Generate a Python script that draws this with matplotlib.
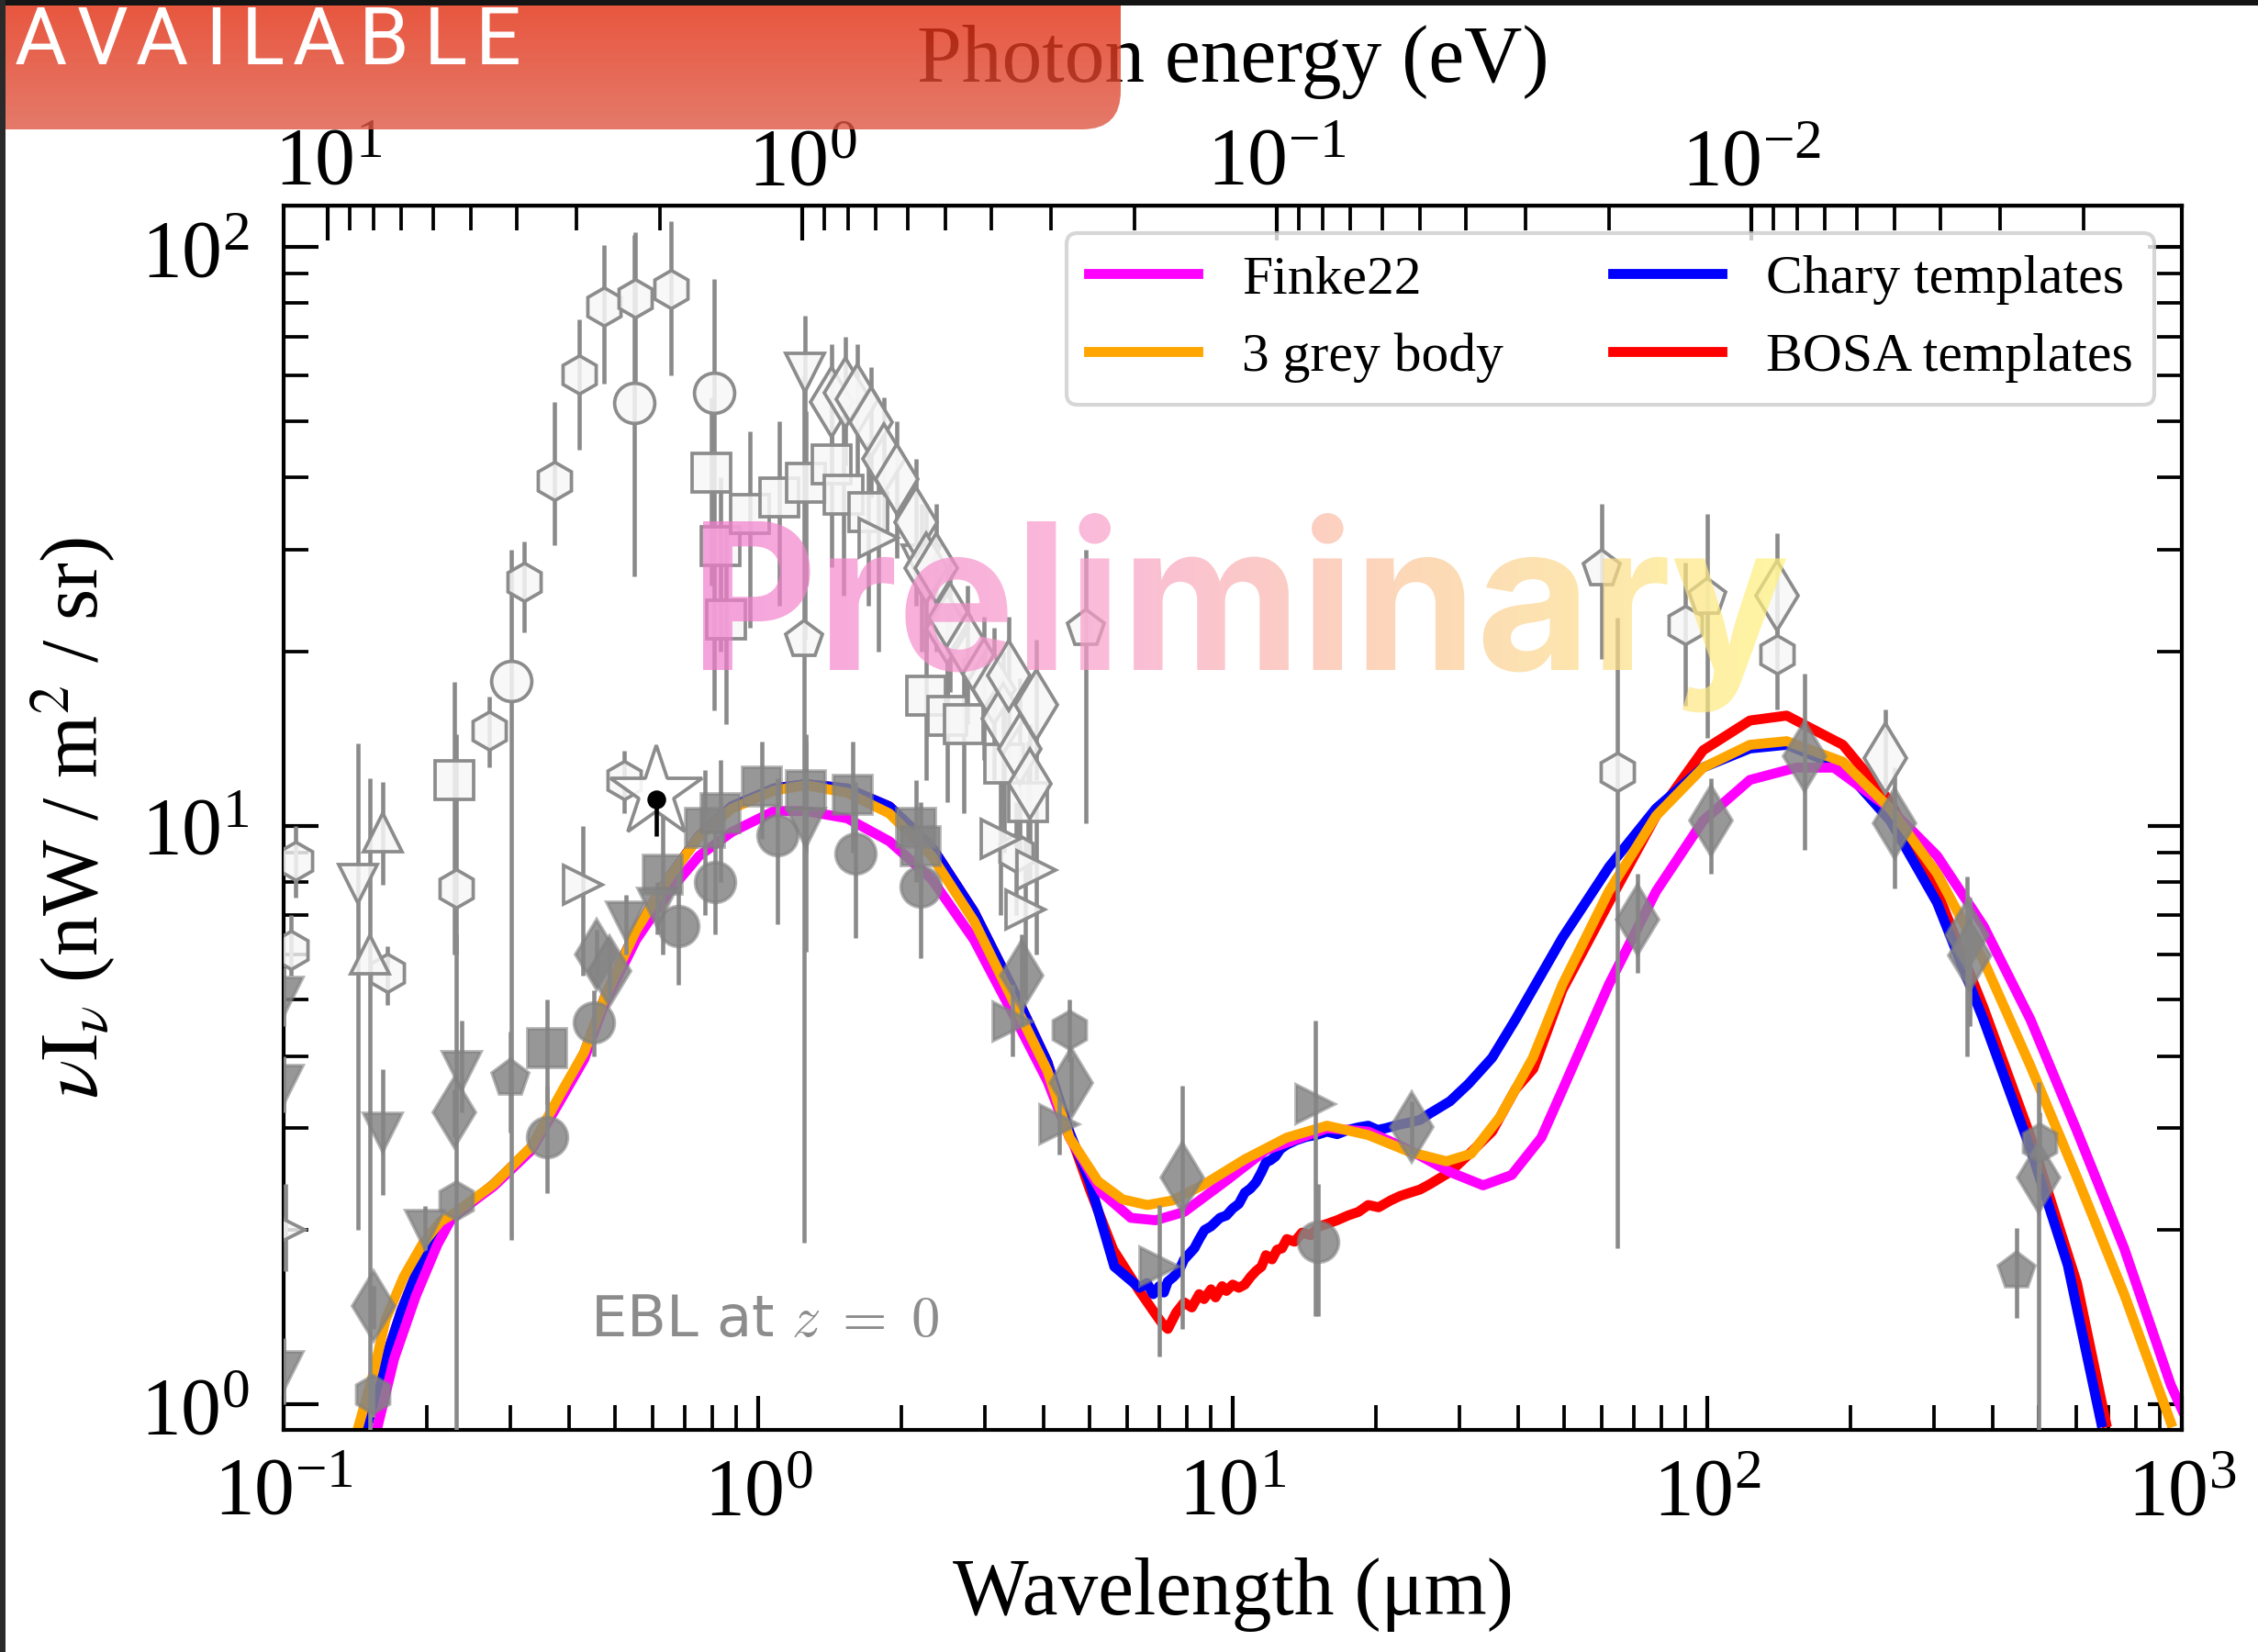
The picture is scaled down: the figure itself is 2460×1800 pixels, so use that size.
import numpy as np
import matplotlib
matplotlib.use("Agg")
import matplotlib.pyplot as plt
from matplotlib.textpath import TextPath
from matplotlib.font_manager import FontProperties
from matplotlib.patches import PathPatch, FancyBboxPatch, Rectangle
from matplotlib.transforms import Affine2D
from matplotlib.colors import LinearSegmentedColormap
from matplotlib.ticker import FixedLocator, LogLocator

# ---------------------------------------------------------------- model curves
finke22_lam = [0.157, 0.171, 0.190, 0.211, 0.227, 0.277, 0.333, 0.387, 0.430, 0.476,
               0.553, 0.646, 0.751, 0.879, 1.08, 1.26, 1.54, 1.89, 2.32, 2.85,
               3.41, 4.07, 4.53, 5.3, 6.1, 6.88, 7.9, 9.66, 11.75, 15.8,
               19.3, 23.6, 28.7, 33.7, 38.7, 44.7, 49.5, 62.0, 78.0, 98.0,
               123.0, 154.0, 185.0, 243.0, 305.0, 382.0, 480.0, 601.0, 756.0, 948.0, 1000.0]
finke22_val = [0.90, 1.20, 1.54, 1.89, 2.11, 2.38, 2.75, 3.40, 3.95, 4.95,
               6.35, 7.66, 8.87, 9.75, 10.6, 10.6, 10.3, 9.4, 8.09, 6.35,
               4.8, 3.62, 2.89, 2.32, 2.10, 2.08, 2.15, 2.43, 2.75, 3.0,
               2.96, 2.75, 2.52, 2.39, 2.49, 2.89, 3.49, 5.31, 7.7, 10.2,
               12.0, 12.6, 12.6, 10.7, 8.87, 6.71, 4.62, 2.97, 1.86, 1.08, 0.98]

greybody_lam = [0.1435, 0.155, 0.164, 0.179, 0.196, 0.214, 0.231, 0.277, 0.333, 0.387,
                0.430, 0.476, 0.553, 0.646, 0.751, 0.879, 1.08, 1.26, 1.54, 1.89,
                2.32, 2.85, 3.41, 4.07, 4.53, 5.2, 5.86, 6.61, 7.46, 8.71,
                10.6, 13.0, 15.8, 19.3, 23.6, 28.2, 31.8, 36.6, 42.9, 49.5,
                62.0, 78.0, 98.0, 123.0, 147.0, 193.0, 243.0, 305.0, 382.0, 480.0,
                601.0, 756.0, 948.0]
greybody_val = [0.91, 1.14, 1.40, 1.66, 1.89, 2.07, 2.15, 2.40, 2.79, 3.49,
                4.06, 5.07, 6.59, 8.09, 9.58, 10.7, 11.5, 11.75, 11.4, 10.5,
                8.87, 6.84, 5.07, 3.77, 2.89, 2.43, 2.26, 2.21, 2.25, 2.40,
                2.65, 2.89, 3.03, 2.92, 2.73, 2.63, 2.71, 3.14, 3.97, 5.31,
                7.7, 10.4, 12.6, 13.8, 14.0, 12.9, 10.7, 8.27, 5.85, 3.84,
                2.47, 1.55, 0.93]

chary_lam = [0.149, 0.162, 0.177, 0.196, 0.217, 0.232, 0.277, 0.333, 0.387, 0.430,
             0.476, 0.553, 0.646, 0.751, 0.879, 1.08, 1.26, 1.54, 1.89, 2.32,
             2.85, 3.41, 4.07, 4.53, 4.99, 5.63, 6.36, 6.6, 6.8, 7.0,
             7.16, 7.3, 7.5, 7.7, 7.9, 8.1, 8.3, 8.5, 8.72, 9.0,
             9.4, 9.7, 10.0, 10.3, 10.6, 10.9, 11.2, 11.5, 11.75, 12.0,
             12.3, 12.6, 13.0, 13.6, 14.3, 15.0, 15.8, 16.6, 17.5, 18.4,
             19.3, 20.2, 21.0, 22.3, 23.6, 24.8, 26.0, 28.7, 31.4, 35.2,
             39.4, 49.5, 62.1, 77.9, 97.8, 123.0, 147.0, 193.0, 243.0, 305.0,
             382.0, 480.0, 575.0, 676.0]
chary_val = [0.90, 1.16, 1.45, 1.79, 2.03, 2.13, 2.40, 2.78, 3.45, 4.05,
             5.07, 6.6, 8.1, 9.6, 10.8, 11.6, 11.8, 11.6, 10.8, 9.2,
             7.1, 5.3, 3.9, 2.95, 2.43, 1.73, 1.59, 1.62, 1.55, 1.60,
             1.56, 1.63, 1.66, 1.70, 1.78, 1.82, 1.86, 1.93, 2.0, 2.03,
             2.10, 2.12, 2.18, 2.22, 2.32, 2.36, 2.42, 2.52, 2.62, 2.64,
             2.68, 2.76, 2.81, 2.86, 2.90, 2.92, 2.96, 2.93, 2.98, 3.01,
             3.03, 2.98, 3.00, 3.04, 3.07, 3.10, 3.18, 3.34, 3.58, 3.97,
             4.62, 6.4, 8.49, 10.7, 12.6, 13.6, 13.8, 12.6, 10.2, 7.36,
             4.62, 2.76, 1.74, 0.93]

bosa_lam = [0.149, 0.162, 0.177, 0.196, 0.217, 0.232, 0.277, 0.333, 0.387, 0.430,
            0.476, 0.553, 0.646, 0.751, 0.879, 1.08, 1.26, 1.54, 1.89, 2.32,
            2.85, 3.41, 4.07, 4.53, 5.0, 5.6, 6.36, 6.8, 7.1, 7.3,
            7.6, 7.9, 8.2, 8.5, 8.7, 9.0, 9.2, 9.5, 9.7, 10.0,
            10.3, 10.6, 10.9, 11.2, 11.5, 11.75, 12.1, 12.4, 12.7, 13.0,
            13.5, 14.0, 14.6, 15.2, 15.8, 16.6, 17.5, 18.4, 19.3, 20.3,
            21.5, 22.5, 23.6, 24.8, 26.0, 28.7, 31.4, 35.2, 39.4, 43.0,
            49.5, 62.0, 78.0, 98.0, 123.0, 147.0, 193.0, 243.0, 305.0, 382.0,
            480.0, 601.0, 692.0]
bosa_val = [0.90, 1.16, 1.45, 1.79, 2.03, 2.13, 2.40, 2.78, 3.45, 4.05,
            5.07, 6.6, 8.1, 9.6, 10.8, 11.6, 11.8, 11.6, 10.8, 9.2,
            7.1, 5.3, 3.9, 2.95, 2.35, 1.85, 1.57, 1.45, 1.38, 1.35,
            1.44, 1.50, 1.47, 1.55, 1.52, 1.58, 1.53, 1.60, 1.57, 1.61,
            1.59, 1.61, 1.66, 1.70, 1.73, 1.81, 1.78, 1.85, 1.86, 1.93,
            1.91, 1.98, 1.96, 2.03, 2.05, 2.08, 2.12, 2.15, 2.21, 2.19,
            2.25, 2.29, 2.32, 2.35, 2.40, 2.52, 2.70, 2.96, 3.50, 3.80,
            5.2, 7.36, 10.4, 13.5, 15.2, 15.5, 13.8, 11.0, 7.7, 4.85,
            2.90, 1.62, 0.93]

# ---------------------------------------------------------------- data points
# each entry: (wavelength [um], nuI_nu, lower end of bar, upper end of bar)
open_hexagons = [
    (0.106, 8.7, 7.5, 10.0), (0.1035, 6.1, 5.5, 7.0), (0.1656, 5.57, 4.9, 6.2),
    (0.231, 7.8, 6.0, 14.4), (0.271, 14.6, 12.6, 16.7), (0.321, 26.4, 21.6, 31.0),
    (0.372, 39.5, 30.5, 54.0), (0.420, 60.2, 44.6, 75.0), (0.474, 78.9, 58.0, 101.0),
    (0.550, 81.5, 58.0, 106.0), (0.655, 84.5, 60.0, 111.0), (0.522, 12.0, 10.5, 13.5),
    (3.50, 9.0, 7.0, 11.0), (64.6, 12.4, 1.86, 22.9), (89.9, 22.2, 16.1, 28.5),
    (140.0, 19.8, 15.9, 25.0),
]
open_circles = [
    (0.302, 17.8, 1.92, 30.0), (0.548, 53.9, 27.0, 105.0), (0.807, 56.1, 15.8, 88.0),
]
open_squares = [
    (0.229, 12.0, 6.0, 17.7), (0.796, 40.7, 26.0, 55.0), (0.834, 30.4, 20.0, 40.0),
    (0.855, 22.7, 15.0, 33.0), (0.962, 34.6, 22.0, 48.0), (1.11, 37.0, 24.0, 50.0),
    (1.26, 39.1, 26.0, 52.0), (1.43, 42.1, 28.0, 56.0), (1.51, 37.3, 25.0, 50.0),
    (1.71, 34.9, 24.0, 46.0), (2.26, 16.8, 12.0, 22.0), (2.50, 15.5, 11.0, 20.0),
    (2.71, 15.0, 10.5, 19.5), (3.30, 12.8, 9.0, 17.0), (3.70, 11.0, 8.0, 14.0),
]
open_tri_down = [
    (0.1435, 7.94, 2.0, 13.9), (1.256, 60.8, 21.0, 76.0), (2.21, 28.3, 20.0, 36.0),
]
open_tri_up = [
    (0.162, 9.75, 7.9, 11.9), (0.152, 6.0, 0.9, 12.1),
]
open_tri_right = [
    (0.101, 2.0, 1.7, 2.4), (0.427, 7.9, 5.5, 10.0), (1.79, 31.4, 20.0, 40.0),
    (3.24, 9.5, 7.0, 12.0), (3.86, 8.37, 6.0, 11.0), (3.65, 7.17, 5.0, 9.5),
]
open_diamonds = [
    (1.43, 54.0, 40.0, 68.0), (1.53, 56.0, 42.0, 70.0), (1.62, 54.5, 40.0, 68.0),
    (1.73, 49.9, 37.0, 62.0), (1.84, 43.1, 32.0, 55.0), (1.96, 39.8, 29.0, 50.0),
    (2.15, 33.5, 24.0, 43.0), (2.26, 27.9, 20.0, 36.0), (2.37, 27.9, 20.0, 36.0),
    (2.50, 21.9, 16.0, 28.0), (2.54, 22.9, 17.0, 29.0), (2.76, 20.4, 15.0, 26.0),
    (2.99, 18.3, 13.0, 23.0), (3.14, 17.2, 12.0, 22.0), (3.29, 15.3, 11.0, 20.0),
    (3.37, 18.2, 13.0, 23.0), (3.56, 13.6, 9.0, 18.0), (3.73, 11.8, 8.0, 15.0),
    (3.86, 16.2, 12.0, 21.0), (140.0, 25.0, 19.8, 32.0), (237.0, 13.1, 11.7, 15.9),
]
open_pentagons = [
    (1.25, 21.0, 1.9, 60.0), (4.91, 21.9, 10.1, 30.0), (60.0, 27.8, 19.4, 36.0),
    (100.0, 24.8, 14.2, 34.6),
]
open_star = [(0.61, 11.4, 11.4, 11.4)]
star_center = [(0.61, 11.1, 9.6, 11.3)]

filled_squares = [
    (0.359, 4.13, 3.3, 5.0), (0.629, 8.24, 6.0, 10.5), (0.773, 9.93, 7.0, 12.5),
    (0.834, 10.5, 8.0, 13.0), (1.02, 11.7, 9.5, 14.0), (1.26, 11.5, 9.0, 14.0),
    (1.58, 11.3, 9.0, 14.0), (2.15, 9.93, 8.0, 12.0), (2.20, 9.22, 7.5, 11.0),
]
filled_circles = [
    (0.359, 2.90, 2.32, 3.55), (0.451, 4.57, 4.0, 5.2), (0.679, 6.71, 5.3, 8.3),
    (0.811, 8.0, 6.5, 9.8), (1.10, 9.64, 6.76, 12.1), (1.60, 8.96, 6.4, 11.9),
    (2.20, 7.85, 5.9, 8.96), (15.1, 1.91, 1.42, 2.4),
]
filled_tri_down = [
    (0.100, 5.07, 4.5, 5.7), (0.100, 3.56, 3.2, 4.0), (0.100, 1.14, 1.0, 1.3),
    (0.162, 2.95, 2.3, 3.8), (0.1986, 2.0, 1.85, 2.2), (0.237, 3.77, 3.2, 4.6),
    (0.526, 6.84, 6.0, 7.6), (0.612, 7.22, 6.5, 8.0), (1.26, 9.93, 6.06, 14.4),
]
filled_tri_right = [
    (3.43, 4.59, 4.0, 5.3), (4.30, 3.05, 2.7, 3.4), (7.0, 1.73, 1.21, 2.21),
    (14.9, 3.30, 1.42, 4.6),
]
filled_diamonds = [
    (0.155, 1.48, 1.35, 1.6), (0.229, 3.19, 2.9, 3.5), (0.457, 6.0, 5.5, 6.6),
    (0.487, 5.61, 5.0, 6.3), (3.59, 5.5, 4.5, 6.5), (4.57, 3.59, 3.2, 4.0),
    (7.84, 2.47, 1.35, 3.55), (23.8, 3.01, 2.71, 3.34), (71.3, 6.87, 5.57, 8.27),
    (102.0, 10.2, 8.27, 12.1), (160.0, 13.2, 9.1, 18.3), (248.0, 10.1, 7.8, 12.6),
    (352.0, 6.47, 4.0, 8.17), (357.0, 5.97, 4.5, 7.5), (500.0, 2.47, 0.8, 3.6),
]
filled_hexagons = [
    (0.154, 1.04, 0.95, 1.12), (0.231, 2.25, 0.5, 6.5), (4.53, 4.44, 3.9, 5.0),
    (501.0, 2.83, 2.5, 3.2),
]
filled_pentagons = [
    (0.301, 3.66, 2.95, 4.4), (449.0, 1.70, 1.41, 2.02),
]

legend_labels = ["Finke22", "3 grey body", "Chary templates", "BOSA templates"]
energy_ticks = [10.0, 1.0, 0.1, 0.01]

# ---------------------------------------------------------------- figure
W, H = 2460, 1800
plt.rcParams["font.family"] = ["Liberation Serif", "DejaVu Serif"]
plt.rcParams["mathtext.fontset"] = "stix"

fig = plt.figure(figsize=(8.2, 6.0), dpi=300)
fig.patch.set_facecolor("white")
ax = fig.add_axes([309 / W, 242 / H, 2068 / W, 1334 / H])
ax.set_xscale("log")
ax.set_yscale("log")

GREY = "#808080"
LW = 2.6
l_bosa, = ax.plot(bosa_lam, bosa_val, color="red", lw=LW, zorder=2)
l_chary, = ax.plot(chary_lam, chary_val, color="blue", lw=LW, zorder=2.1)
l_finke, = ax.plot(finke22_lam, finke22_val, color="magenta", lw=LW, zorder=2.2)
l_grey, = ax.plot(greybody_lam, greybody_val, color="orange", lw=LW, zorder=2.3)


def draw_points(points, marker, filled, ms=10.0, face=None, edge=None, ecolor="#8a8a8a", z=3):
    pts = np.array(points, dtype=float)
    lam, val, lo, hi = pts.T
    yerr = np.vstack([val - lo, hi - val])
    if face is None:
        face = (0.52, 0.52, 0.52, 0.85) if filled else (0.97, 0.97, 0.97, 0.85)
    if edge is None:
        edge = (0.5, 0.5, 0.5, 0.6) if filled else "#8c8c8c"
    ax.errorbar(lam, val, yerr=yerr, fmt=marker, ls="none", ms=ms,
                mfc=face, mec=edge, mew=0.9, ecolor=ecolor, elinewidth=1.1,
                capsize=0, zorder=z)


# filled symbols
draw_points(filled_squares, "s", True)
draw_points(filled_circles, "o", True, ms=10.5)
draw_points(filled_tri_down, "v", True)
draw_points(filled_tri_right, ">", True)
draw_points(filled_diamonds, "d", True, ms=13)
draw_points(filled_hexagons, "h", True)
draw_points(filled_pentagons, "p", True)
# open symbols
draw_points(open_hexagons, "h", False)
draw_points(open_circles, "o", False, ms=10.5)
draw_points(open_squares, "s", False)
draw_points(open_tri_down, "v", False)
draw_points(open_tri_up, "^", False)
draw_points(open_tri_right, ">", False)
draw_points(open_diamonds, "d", False, ms=13)
draw_points(open_pentagons, "p", False)
draw_points(open_star, "*", False, ms=25, face=(1, 1, 1, 0.9), z=3.5)
draw_points(star_center, "o", True, ms=4, face="black", edge="black", ecolor="black", z=3.6)

ax.set_xlim(0.1, 1000)
ax.set_ylim(0.903, 118)

ax.tick_params(which="both", direction="in", top=False, right=True, labelsize=21)
ax.tick_params(which="major", length=9, width=1.0, pad=7)
ax.tick_params(which="minor", length=6.5, width=0.9)
ax.tick_params(axis="y", which="major", pad=9)
for s in ax.spines.values():
    s.set_linewidth(1.0)

ax.set_xlabel("Wavelength (μm)", fontsize=21, labelpad=7)
ax.set_ylabel(r"$\nu \mathrm{I}_\nu$ (nW / m$^2$ / sr)", fontsize=21, labelpad=6)


def lam_to_energy(x):
    x = np.asarray(x, dtype=float)
    with np.errstate(divide="ignore", invalid="ignore"):
        return 1.23984 / x


secax = ax.secondary_xaxis("top", functions=(lam_to_energy, lam_to_energy))
secax.xaxis.set_major_locator(FixedLocator(energy_ticks))
secax.xaxis.set_minor_locator(LogLocator(base=10, subs=np.arange(2, 10), numticks=30))
secax.tick_params(which="both", direction="in", labelsize=21)
secax.tick_params(which="major", length=9, width=1.0, pad=1)
secax.tick_params(which="minor", length=6.5, width=0.9)
secax.set_xlabel("Photon energy (eV)", fontsize=21, labelpad=12)

ax.legend([l_finke, l_grey, l_chary, l_bosa], legend_labels, ncol=2,
          loc="upper right", fontsize=14.3)

fig.text(643 / W, 1 - 1456 / H, r"EBL at $z\;=\;0$", fontsize=15, color="#8c8c8c",
         family="DejaVu Sans", math_fontfamily="cm", ha="left", va="baseline")

# ---------------------------------------------------------------- overlays
ov = fig.add_axes([0, 0, 1, 1], zorder=20)
ov.patch.set_alpha(0)
ov.axis("off")

# watermark
fp = FontProperties(family="Inter", weight="bold")
tp = TextPath((0, 0), "Preliminary", size=100, prop=fp)
bb = tp.get_extents()
cap_h = TextPath((0, 0), "P", size=100, prop=fp).get_extents().height
sx = 1180 / bb.width
sy = 162 / cap_h
wm_path = Affine2D().translate(-bb.x0, 0).scale(sx, sy).translate(766, H - 730).transform_path(tp)
wm_patch = PathPatch(wm_path, facecolor="none", edgecolor="none", transform=ov.transData)
ov.add_patch(wm_patch)
wm_cmap = LinearSegmentedColormap.from_list(
    "wm", [(0.0, "#f27ccd"), (0.35, "#f99ccb"), (0.65, "#fcc79a"), (1.0, "#fff27a")])
wm_im = ov.imshow(np.linspace(0, 1, 256)[None, :], cmap=wm_cmap, aspect="auto",
                  extent=[766, 1946, H - 800, H - 540], alpha=0.7, interpolation="bilinear")
wm_im.set_clip_path(wm_patch)

# frame edges
ov.add_patch(Rectangle((0, H - 6), W, 6, facecolor="#141414", edgecolor="none"))
ov.add_patch(Rectangle((0, 0), 6, H, facecolor="#2a2a2a", edgecolor="none"))

# banner
ban = FancyBboxPatch((-80, H - 141), 1221 + 80, 300,
                     boxstyle="round,pad=0,rounding_size=42",
                     facecolor="none", edgecolor="none", transform=ov.transData)
ov.add_patch(ban)
ban_cmap = LinearSegmentedColormap.from_list("ban", [(0.888, 0.166, 0.049), (0.872, 0.348, 0.270)])
ban_im = ov.imshow(np.linspace(0, 1, 256)[:, None], cmap=ban_cmap, aspect="auto",
                   extent=[0, 1221, H - 141, H], alpha=0.8, interpolation="bilinear")
ban_im.set_clip_path(ban)

letters_x = [16, 84, 148, 223, 263, 319, 391, 462, 518]
for ch, xl in zip("AVAILABLE", letters_x):
    ov.text(xl, H - 70, ch, color="white", fontsize=21, family="Roboto",
            fontweight="normal", ha="left", va="baseline")

ov.set_xlim(0, W)
ov.set_ylim(0, H)

fig.savefig("out.png", dpi=300)
